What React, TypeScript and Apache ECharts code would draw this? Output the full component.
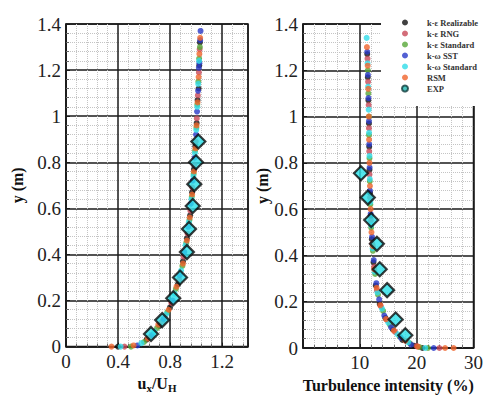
import React, { useEffect, useRef } from "react";
import * as echarts from "echarts";

const seriesNames = ["k-ε Realizable", "k-ε RNG", "k-ε Standard", "k-ω SST", "k-ω Standard", "RSM", "EXP"];
const seriesColors = ["#111111", "#c84858", "#58a838", "#2838c8", "#30dce8", "#f0642c", "#28e0e8"];

const uxYTicks = ["0", "0.2", "0.4", "0.6", "0.8", "1", "1.2", "1.4"];

// Left panel: u_x / U_H vs y (m)
const velRealizable = [[0.4,0],[0.62,0.03],[0.72,0.09],[0.8,0.17],[0.86,0.27],[0.9,0.37],[0.93,0.47],[0.955,0.57],[0.97,0.67],[0.985,0.77],[0.995,0.87],[1.005,0.97],[1.012,1.07],[1.02,1.12],[1.025,1.22],[1.03,1.32]];
const velRNG = [[0.45,0],[0.64,0.04],[0.74,0.11],[0.81,0.19],[0.87,0.29],[0.905,0.39],[0.935,0.49],[0.957,0.59],[0.972,0.69],[0.987,0.79],[0.998,0.89],[1.006,0.99],[1.014,1.09],[1.022,1.19],[1.028,1.29]];
const velStandard = [[0.5,0],[0.6,0.02],[0.7,0.08],[0.78,0.15],[0.845,0.25],[0.895,0.35],[0.925,0.45],[0.95,0.55],[0.968,0.65],[0.982,0.75],[0.993,0.85],[1.003,0.95],[1.01,1.05],[1.018,1.15],[1.024,1.25],[1.03,1.3]];
const velSST = [[0.55,0.005],[0.66,0.05],[0.75,0.12],[0.82,0.2],[0.875,0.31],[0.91,0.41],[0.94,0.52],[0.96,0.62],[0.975,0.72],[0.99,0.82],[1.0,0.92],[1.008,1.02],[1.016,1.11],[1.022,1.21],[1.026,1.23],[1.032,1.33],[1.035,1.37]];
const velKwStandard = [[0.42,0],[0.58,0.015],[0.68,0.065],[0.77,0.14],[0.835,0.23],[0.885,0.33],[0.92,0.44],[0.945,0.54],[0.965,0.64],[0.98,0.74],[0.992,0.84],[1.002,0.94],[1.01,1.04],[1.017,1.14],[1.024,1.24]];
const velRSM = [[0.35,0],[0.52,0.005],[0.63,0.035],[0.71,0.095],[0.79,0.16],[0.85,0.26],[0.9,0.36],[0.93,0.46],[0.952,0.56],[0.97,0.66],[0.984,0.76],[0.996,0.86],[1.004,0.96],[1.012,1.06],[1.02,1.17],[1.026,1.27],[1.032,1.34]];
const velEXP = [[0.654,0.055],[0.74,0.115],[0.825,0.21],[0.877,0.3],[0.93,0.41],[0.946,0.51],[0.975,0.61],[0.987,0.705],[1.0,0.8],[1.018,0.89]];

// Right panel: turbulence intensity (%) vs y (m)
const tiRealizable = [[21,0],[19.5,0.01],[17.5,0.035],[15.8,0.08],[14.5,0.13],[13.5,0.19],[12.8,0.27],[12.4,0.37],[12.1,0.47],[11.9,0.57],[11.8,0.67],[11.7,0.77],[11.65,0.87],[11.6,0.97],[11.5,1.07],[11.4,1.17],[11.3,1.27]];
const tiRNG = [[24,0],[20,0.008],[18.2,0.03],[16.2,0.07],[14.8,0.12],[13.7,0.18],[13,0.25],[12.5,0.35],[12.2,0.45],[11.95,0.55],[11.8,0.65],[11.7,0.75],[11.65,0.85],[11.6,0.95],[11.55,1.05],[11.45,1.15],[11.35,1.25]];
const tiStandard = [[22,0],[20.5,0.004],[18.8,0.02],[17,0.05],[15.3,0.1],[14.1,0.16],[13.2,0.23],[12.7,0.32],[12.3,0.42],[12.0,0.52],[11.85,0.62],[11.75,0.72],[11.7,0.82],[11.6,0.92],[11.6,1.0],[11.5,1.1],[11.4,1.2]];
const tiSST = [[23,0],[19,0.015],[17.2,0.045],[15.5,0.09],[14.3,0.14],[13.4,0.21],[12.9,0.28],[12.45,0.38],[12.15,0.48],[11.9,0.58],[11.78,0.68],[11.72,0.78],[11.65,0.88],[11.6,0.98],[11.52,1.08],[11.42,1.18],[11.3,1.28]];
const tiKwStandard = [[21.5,0],[18.5,0.025],[16.6,0.06],[15,0.11],[13.9,0.17],[13.1,0.24],[12.6,0.33],[12.25,0.43],[12.0,0.53],[11.85,0.63],[11.75,0.73],[11.7,0.83],[11.62,0.93],[11.55,1.03],[11.45,1.13],[11.35,1.23],[11.2,1.34]];
const tiRSM = [[26.5,0],[25,0],[20.2,0.006],[18,0.032],[16,0.075],[14.6,0.125],[13.6,0.185],[12.95,0.26],[12.55,0.34],[12.3,0.44],[12.05,0.5],[11.9,0.6],[11.78,0.7],[11.7,0.8],[11.62,0.9],[11.58,1.0],[11.48,1.12],[11.38,1.22],[11.25,1.3]];
const tiEXP = [[10.2,0.755],[11.4,0.65],[12.0,0.553],[13.0,0.45],[13.5,0.34],[14.8,0.25],[16.3,0.123],[18.0,0.055]];

const velData = [velRealizable, velRNG, velStandard, velSST, velKwStandard, velRSM, velEXP];
const tiData = [tiRealizable, tiRNG, tiStandard, tiSST, tiKwStandard, tiRSM, tiEXP];

const SERIF = "'Liberation Serif', 'Times New Roman', 'DejaVu Serif', serif";

function makeSeries(data: number[][][], idx: number) {
  return data.map((d, i) => {
    const isExp = i === 6;
    return {
      name: seriesNames[i],
      type: "scatter",
      xAxisIndex: idx,
      yAxisIndex: idx,
      data: d,
      symbol: isExp ? "diamond" : "circle",
      symbolSize: isExp ? 14 : 6,
      itemStyle: isExp
        ? { color: seriesColors[i], borderColor: "#0a0a0a", borderWidth: 2.2 }
        : { color: seriesColors[i] },
      z: isExp ? 4 : 2,
    };
  });
}

function axisCommon() {
  return {
    axisLine: { show: true, lineStyle: { color: "#1a1a1a", width: 1.5 } },
    axisTick: { show: true, inside: true, length: 4, lineStyle: { color: "#1a1a1a" } },
    minorTick: { show: true, splitNumber: 5, length: 3, lineStyle: { color: "#666" } },
    splitLine: { show: true, lineStyle: { color: "#1a1a1a", width: 1.5 } },
    minorSplitLine: { show: true, lineStyle: { color: "#c4c4c4", type: "dotted", width: 1 } },
    axisLabel: { fontFamily: SERIF, fontSize: 19, color: "#222", margin: 5 },
    nameTextStyle: { fontFamily: SERIF, fontSize: 16, fontWeight: "bold", color: "#111" },
  };
}

export default function App() {
  const ref = useRef<HTMLDivElement>(null);
  useEffect(() => {
    if (!ref.current) return;
    const chart = echarts.init(ref.current, null, { renderer: "svg" });
    const c = axisCommon();
    chart.setOption({
      animation: false,
      backgroundColor: "#ffffff",
      textStyle: { fontFamily: SERIF },
      grid: [
        { left: 66, top: 24, width: 182, height: 329, show: true, borderColor: "#1a1a1a", borderWidth: 1.5, backgroundColor: "#fff" },
        { left: 303, top: 24, width: 178, height: 329, show: true, borderColor: "#1a1a1a", borderWidth: 1.5, backgroundColor: "#fff" },
      ],
      xAxis: [
        {
          ...c,
          type: "value",
          gridIndex: 0,
          min: 0,
          max: 1.4,
          interval: 0.4,
          axisLabel: { ...c.axisLabel, showMaxLabel: false },
          name: "u{sub|x}/U{sub|H}",
          nameLocation: "middle",
          nameGap: 26,
          nameTextStyle: {
            ...c.nameTextStyle,
            rich: { sub: { fontFamily: SERIF, fontSize: 11, fontWeight: "bold", verticalAlign: "bottom", padding: [8, 0, 0, 0] } },
          },
        },
        {
          ...c,
          type: "value",
          gridIndex: 1,
          min: 0,
          max: 30,
          interval: 10,
          axisLabel: { ...c.axisLabel, showMinLabel: false },
          name: "Turbulence intensity (%)",
          nameLocation: "middle",
          nameGap: 29,
        },
      ],
      yAxis: [
        {
          ...c,
          type: "value",
          gridIndex: 0,
          min: 0,
          max: 1.4,
          interval: 0.2,
          axisLabel: { ...c.axisLabel, formatter: (v: number) => uxYTicks[Math.round(v / 0.2)] ?? String(v) },
          name: "y (m)",
          nameLocation: "middle",
          nameGap: 41,
        },
        {
          ...c,
          type: "value",
          gridIndex: 1,
          min: 0,
          max: 1.4,
          interval: 0.2,
          axisLabel: { ...c.axisLabel, formatter: (v: number) => uxYTicks[Math.round(v / 0.2)] ?? String(v) },
          name: "y (m)",
          nameLocation: "middle",
          nameGap: 30,
        },
      ],
      graphic: {
        elements: [
          { type: "rect", z: 5, shape: { x: 381, y: 0, width: 105, height: 106 }, style: { fill: "#ffffff" } },
        ],
      },
      legend: {
        z: 10,
        orient: "vertical",
        left: 396,
        top: 13,
        itemWidth: 6,
        itemHeight: 6,
        itemGap: 2,
        textStyle: { fontFamily: SERIF, fontSize: 8.5, fontWeight: "bold", color: "#333", lineHeight: 9, padding: [0, 0, 0, 14] },
        data: seriesNames.map((n, i) =>
          i === 6
            ? { name: n, icon: "circle", itemStyle: { color: "#20b8b0", borderColor: "#0c3a3a", borderWidth: 2 } }
            : { name: n, icon: "circle", itemStyle: { color: seriesColors[i] } }
        ),
      },
      series: [...makeSeries(velData, 0), ...makeSeries(tiData, 1)],
    });
    return () => chart.dispose();
  }, []);
  return <div ref={ref} style={{ position: "fixed", left: 0, top: 0, width: 486, height: 398 }} />;
}
